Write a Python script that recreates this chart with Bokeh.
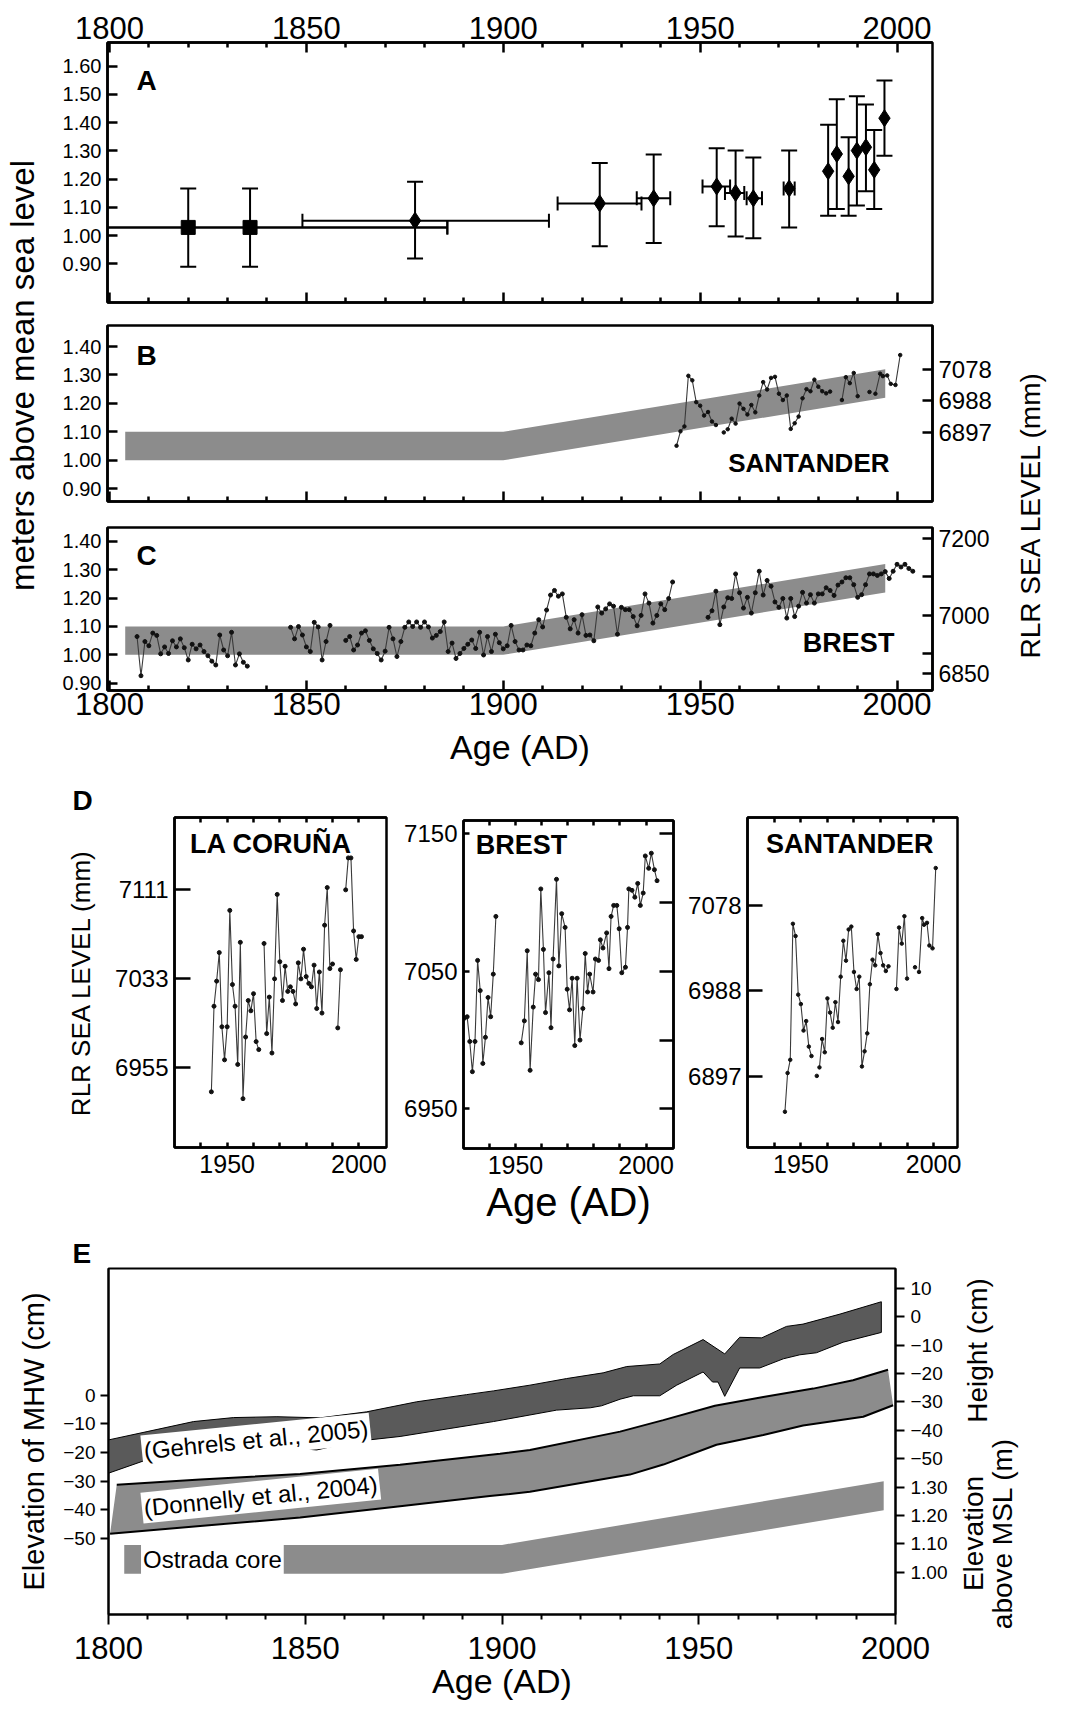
import math
from bokeh.plotting import figure
from bokeh.models import Range1d, LinearAxis, FixedTicker, NumeralTickFormatter, Label, ColumnDataSource
from bokeh.layouts import row, column
from bokeh.embed import file_html
from bokeh.resources import INLINE

NaN = float("nan")
FONT = "Liberation Sans"
BAND = "#8c8c8c"
DARK = "#5a5a5a"

# ---------------- data ----------------
year_major = [1800, 1850, 1900, 1950, 2000]
year_minor = [1810, 1820, 1830, 1840, 1860, 1870, 1880, 1890, 1910, 1920, 1930, 1940, 1960, 1970, 1980, 1990]
d_year_major = [1950, 2000]
d_year_minor = [1940, 1960, 1970, 1980, 1990]

# Panel A: sea-level index points (m above MSL) with error bars
a_year = [1820.0, 1835.7, 1877.6, 1924.5, 1938.2, 1954.2, 1959.0, 1963.5, 1972.6, 1982.5, 1984.7, 1987.7, 1989.8, 1992.1, 1994.2, 1996.8]
a_level = [1.029, 1.029, 1.053, 1.114, 1.132, 1.174, 1.151, 1.132, 1.167, 1.228, 1.289, 1.210, 1.301, 1.313, 1.233, 1.416]
a_low = [0.890, 0.890, 0.919, 0.962, 0.974, 1.033, 0.997, 0.991, 1.029, 1.070, 1.094, 1.070, 1.107, 1.157, 1.094, 1.283]
a_high = [1.167, 1.167, 1.191, 1.257, 1.287, 1.309, 1.301, 1.277, 1.301, 1.393, 1.483, 1.348, 1.494, 1.464, 1.374, 1.549]
a_year_lo = [1790.0, 1790.0, 1849.0, 1913.8, 1933.9, 1950.6, 1956.3, 1961.8, 1971.2, 1982.5, 1984.7, 1987.7, 1989.8, 1992.1, 1994.2, 1996.8]
a_year_hi = [1885.8, 1885.8, 1911.6, 1935.1, 1942.4, 1957.6, 1961.2, 1965.7, 1974.0, 1982.5, 1984.7, 1987.7, 1989.8, 1992.1, 1994.2, 1996.8]
a_group = [1, 1, 2, 2, 2, 2, 2, 2, 2, 2, 2, 2, 2, 2, 2, 2]
a_ticks = [0.9, 1.0, 1.1, 1.2, 1.3, 1.4, 1.5, 1.6]
bc_ticks = [0.9, 1.0, 1.1, 1.2, 1.3, 1.4]

# Ostrada core band (m above MSL)
band_year = [1804, 1900, 1997]
band_low = [1.00, 1.00, 1.22]
band_high = [1.10, 1.10, 1.32]

# Santander RLR sea level (mm)
s_year = [1944, 1945, 1946, 1947, 1948, 1949, 1950, 1951, 1952, 1953, 1954, NaN,
          1956, NaN,
          1957, 1958, 1959, 1960, 1961, 1962, 1963, 1964, 1965, 1966, 1967, 1968, 1969, 1970,
          1971, 1972, 1973, 1974, 1975, 1976, 1977, 1978, 1979, 1980, 1981, 1982, 1983, NaN,
          1986, 1987, 1988, 1989, 1990, NaN,
          1993, NaN,
          1994.5, 1995.7, 1996.4, 1997.5, 1998.4, 1999.6, 2000.8]
s_mm = [6860, 6901, 6915, 7059, 7046, 6984, 6974, 6946, 6956, 6929, 6919, NaN,
        6898, NaN,
        6907, 6937, 6923, 6980, 6965, 6949, 6976, 6955, 7003, 7041, 7020, 7053, 7056, 7008,
        6990, 7003, 6908, 6924, 6943, 6995, 7021, 7015, 7048, 7028, 7015, 7009, 7014, NaN,
        6990, 7055, 7038, 7067, 7001, NaN,
        7013, NaN,
        7008, 7065, 7058, 7060, 7036, 7033, 7118]
b_mm_ticks = [6897, 6988, 7078]

# Brest RLR sea level (mm), long record shown in panel C
bc_year = [1807, 1808, 1809, 1810, 1811, 1812, 1813, 1814, 1815, 1816, 1817, 1818, 1819, 1820, 1821,
           1822, 1823, 1824, 1825, 1826, 1827, 1828, 1829, 1830, 1831, 1832, 1833, 1834, 1835, NaN,
           1846, 1847, 1848, 1849, 1850, 1851, 1852, 1853, 1854, 1855, 1856, NaN,
           1860, 1861, 1862, 1863, 1864, 1865, 1866, 1867, 1868, 1869, 1870, 1871, 1872, 1873,
           1874, 1875, 1876, 1877, 1878, 1879, 1880, 1881, 1882, 1883, 1884, 1885, 1886, 1887,
           1888, 1889, 1890, 1891, 1892, 1893, 1894, 1895, 1896, 1897, 1898, 1899, 1900, 1901,
           1902, 1903, 1904, 1905, 1906, 1907, 1908, 1909, 1910, 1911, 1912, 1913, 1914, 1915,
           1916, 1917, 1918, 1919, 1920, 1921, 1922, 1923, 1924, 1925, 1926, 1927, 1928, 1929,
           1930, 1931, 1932, 1933, 1934, 1935, 1936, 1937, 1938, 1939, 1940, 1941, 1942, 1943, NaN,
           1952, 1953, 1954, 1955, 1956, 1957, 1958, 1959, 1960, 1961, 1962, 1963, 1964, 1965,
           1966, 1967, 1968, 1969, 1970, 1971, 1972, 1973, 1974, 1975, 1976, 1977, 1978, 1979,
           1980, 1981, 1982, 1983, 1984, 1985, 1986, 1987, 1988, 1989, 1990, 1991, 1992, 1993,
           1994, 1995, 1996, 1997, 1998, 1999, 2000, 2001, 2002, 2003, 2004]
bc_mm = [6945, 6843, 6932, 6921, 6954, 6948, 6900, 6918, 6901, 6934, 6918, 6939, 6916, 6884, 6925,
         6913, 6923, 6906, 6895, 6881, 6871, 6949, 6910, 6895, 6956, 6871, 6900, 6878, 6868, NaN,
         6969, 6939, 6971, 6949, 6918, 6906, 6982, 6970, 6884, 6932, 6974, NaN,
         6935, 6945, 6910, 6923, 6954, 6960, 6935, 6913, 6901, 6884, 6907, 6969, 6939, 6893,
         6932, 6969, 6983, 6971, 6983, 6969, 6983, 6970, 6941, 6948, 6958, 6983, 6906, 6928,
         6888, 6901, 6914, 6925, 6936, 6914, 6956, 6897, 6945, 6906, 6951, 6929, 6913, 6921,
         6974, 6932, 6910, 6910, 6923, 6921, 6954, 6989, 6970, 7014, 7053, 7065, 7050, 7056,
         6995, 6965, 6989, 6954, 7002, 6948, 6949, 6934, 7022, 7006, 7017, 7030, 7024, 6951,
         7021, 7015, 7015, 6997, 6973, 7000, 7056, 7032, 6980, 7000, 7030, 7015, 7044, 7087, NaN,
         6995, 7012, 7063, 6976, 7022, 7046, 7044, 7108, 7059, 7019, 7047, 7006, 7059, 7115,
         7053, 7091, 7076, 7035, 7021, 7044, 6993, 7044, 6997, 7024, 7060, 7032, 7054, 7032,
         7056, 7056, 7072, 7065, 7052, 7079, 7087, 7098, 7098, 7080, 7047, 7054, 7080, 7108,
         7108, 7104, 7108, 7114, 7096, 7115, 7133, 7126, 7133, 7122, 7115]
c_mm_ticks = [6850, 6900, 7000, 7100, 7200]
c_mm_labels = {6850: "6850", 6900: "", 7000: "7000", 7100: "", 7200: "7200"}

# Panel D: La Coruna (mm)
lc_year = [1944, 1945, 1946, 1947, 1948, 1949, 1950, 1951, 1952, 1953, 1954, 1955, 1956, 1957,
           1958, 1959, 1960, 1961, 1962, NaN,
           1964, 1965, 1966, 1967, 1968, 1969, 1970, 1971, 1972, 1973, 1974, 1975, 1976, 1977,
           1978, 1979, 1980, 1981, 1982, 1983, 1984, 1985, 1986, 1987, 1988, 1989, 1990, NaN,
           1992, 1993, NaN,
           1995, 1996, 1997, 1998, 1999, 2000, 2001]
lc_mm = [6934, 7009, 7031, 7056, 6991, 6962, 6991, 7093, 7028, 7009, 6958, 7065, 6928, 6982,
         7014, 7005, 7020, 6978, 6971, NaN,
         7064, 6985, 7017, 6968, 7033, 7107, 7048, 7014, 7044, 7022, 7026, 7022, 7011, 7047,
         7033, 7059, 7035, 7029, 7026, 7045, 7007, 7039, 7003, 7080, 7113, 7042, 7046, NaN,
         6990, 7041, NaN,
         7111, 7139, 7139, 7075, 7050, 7070, 7070]
lc_ticks = [6955, 7033, 7111]

# Panel D: Brest (mm)
br_year = [1930.5, 1931.5, 1932.5, 1933.5, 1934.5, 1935.5, 1936.5, 1937.5, 1938.5, 1939.5, 1940.5,
           1941.5, 1942.5, NaN,
           1952.2, 1953.4, 1954.5, 1955.6, 1956.8, 1957.7, 1958.8, 1959.7, 1960.7, 1961.5, 1962.8,
           1963.6, 1964.4, 1965.7, 1966.6, 1967.7, 1969.0, 1969.8, 1970.7, 1971.7, 1972.7, 1973.6,
           1974.7, 1975.8, 1976.7, 1977.6, 1978.4, 1979.7, 1980.6, 1981.8, 1982.5, 1983.5, 1984.9,
           1985.8, 1986.6, 1987.6, 1988.8, 1989.7, 1990.7, 1992.1, 1992.9, 1993.4, 1994.6, 1995.7,
           1996.8, 1997.8, 1998.9, 1999.7, 2001.0, 2002.0, 2003.2, 2004.2]
br_mm = [7016, 7017, 6999, 6977, 6999, 7058, 7036, 6983, 7002, 7031, 7017, 7048, 7090, NaN,
         6998, 7014, 7065, 6978, 7024, 7048, 7044, 7110, 7066, 7020, 7049, 7009, 7059, 7117,
         7054, 7092, 7082, 7037, 7022, 7045, 6996, 7045, 7000, 7023, 7063, 7035, 7048, 7035,
         7059, 7058, 7073, 7067, 7078, 7052, 7090, 7098, 7098, 7081, 7049, 7053, 7082, 7110,
         7109, 7104, 7114, 7098, 7107, 7134, 7125, 7136, 7124, 7116]
br_ticks = [6950, 7050, 7150]
br_right_ticks = [6950, 7000, 7050, 7100, 7150]

# Panel E: saltmarsh reconstructions (cm relative to MHW)
geh_up_year = [1800, 1809.8, 1821.6, 1831.8, 1842.8, 1853.8, 1865.6, 1878.3, 1891.0, 1897.8, 1907.1,
               1916.4, 1925.7, 1931.7, 1940.1, 1943.5, 1951.1, 1956.6, 1960.4, 1966.0, 1972.3,
               1976.5, 1985.9, 1996.4]
geh_up_cm = [-15.6, -12.7, -9.2, -7.8, -7.5, -7.9, -5.8, -2.3, 0.2, 1.5, 3.5, 5.8, 7.8, 10.0, 10.9,
             14.2, 19.4, 14.4, 20.2, 20.0, 24.0, 24.8, 28.3, 32.6]
geh_lo_year = [1800, 1809.8, 1821.6, 1831.8, 1842.8, 1852.9, 1862.2, 1874.1, 1886.8, 1897.8, 1907.1,
               1913.9, 1922.4, 1925.3, 1930.0, 1933.4, 1940.1, 1944.4, 1951.1, 1953.5, 1954.9,
               1956.6, 1960.4, 1965.5, 1971.5, 1975.7, 1979.9, 1986.7, 1996.4]
geh_lo_cm = [-27.2, -22.5, -20.8, -19.6, -17.9, -19.1, -16.2, -14.4, -11.6, -9.2, -6.9, -5.2, -4.4,
             -3.7, -1.4, -0.2, -0.2, 3.5, 8.1, 4.6, 4.6, -0.4, 9.5, 9.5, 12.7, 14.1, 14.8, 18.5, 21.9]
don_up_year = [1802.1, 1823.3, 1848.7, 1874.1, 1899.5, 1907.1, 1930.0, 1941.0, 1954.1, 1966.4,
               1979.1, 1989.2, 1998.1]
don_up_cm = [-31.2, -29.4, -27.5, -24.3, -20.4, -19.1, -12.7, -8.7, -3.7, -0.6, 2.3, 5.2, 8.9]
don_lo_year = [1800.4, 1823.3, 1848.7, 1874.1, 1896.9, 1907.1, 1932.5, 1941.0, 1954.5, 1966.4,
               1976.5, 1991.8, 1999.4]
don_lo_cm = [-48.3, -45.6, -42.7, -38.7, -35.2, -33.7, -27.7, -24.2, -17.3, -13.9, -10.6, -7.5, -3.5]
e_left_ticks = [-50, -40, -30, -20, -10, 0]
e_right_ticks = [10, 0, -10, -20, -30, -40, -50, -60, -70, -80, -90]
e_right_labels = {-60: "1.30", -70: "1.20", -80: "1.10", -90: "1.00"}

XR = (1799.5, 2009.0)


# ---------------- helpers ----------------
def mk(width, height, xr, yr, left, right, top, bottom, x_loc="below", lw=2.5):
    p = figure(width=width, height=height, x_range=Range1d(*xr), y_range=Range1d(*yr),
               output_backend="svg", toolbar_location=None, x_axis_location=x_loc,
               min_border_left=left, min_border_right=right,
               min_border_top=top, min_border_bottom=bottom)
    p.grid.visible = False
    p.outline_line_color = "black"
    p.outline_line_width = lw
    p.background_fill_color = "white"
    p.border_fill_color = "white"
    return p


def style(ax, ticks, minor, size, tin, tout=0, min_in=0, min_out=0, lw=2.5, standoff=5):
    ax.ticker = FixedTicker(ticks=ticks, minor_ticks=minor)
    ax.axis_line_width = lw
    ax.axis_line_color = "black"
    ax.major_tick_line_width = lw
    ax.minor_tick_line_width = lw
    ax.major_tick_line_color = "black"
    ax.minor_tick_line_color = "black"
    ax.major_tick_in = tin
    ax.major_tick_out = tout
    ax.minor_tick_in = min_in
    ax.minor_tick_out = min_out
    ax.major_label_text_font = FONT
    ax.major_label_standoff = standoff
    if size:
        ax.major_label_text_font_size = f"{size}px"
        ax.major_label_text_color = "black"
    else:
        ax.major_label_text_font_size = "0px"
        ax.major_label_text_color = None
    return ax


def add_axis(p, loc, ticks, minor, size, tin, y_range_name=None, **kw):
    ax = LinearAxis(y_range_name=y_range_name) if y_range_name else LinearAxis()
    style(ax, ticks, minor, size, tin, **kw)
    p.add_layout(ax, loc)
    return ax


def axis_title(ax, s, size, standoff):
    ax.axis_label = s
    ax.axis_label_text_font = FONT
    ax.axis_label_text_font_size = f"{size}px"
    ax.axis_label_text_font_style = "normal"
    ax.axis_label_text_color = "black"
    ax.axis_label_standoff = standoff


def text(p, x, y, s, size, bold=False, angle=0.0, yr="default", bg=None, align="center"):
    lab = Label(x=x, y=y, text=s, text_font=FONT, text_font_size=f"{size}px",
                text_font_style="bold" if bold else "normal", angle=angle,
                text_align=align, text_baseline="middle", y_range_name=yr, text_color="black")
    if bg:
        lab.background_fill_color = bg
        lab.padding = 2
    p.add_layout(lab)


def panel_letter(p, s, offset, standoff):
    p.title.text = s
    p.title.align = "left"
    p.title.offset = offset
    p.title.standoff = standoff
    p.title.text_font = FONT
    p.title.text_font_size = "28px"
    p.title.text_font_style = "bold"
    p.title.text_color = "black"


def series(p, xs, ys, yr="default", size=4):
    p.line(x=xs, y=ys, y_range_name=yr, line_color="#3a3a3a", line_width=1.1)
    p.scatter(x=xs, y=ys, y_range_name=yr, size=size, fill_color="#111111", line_color="#111111")


def strip(width, height):
    s = figure(width=width, height=height, x_range=Range1d(0, width), y_range=Range1d(0, height),
               x_axis_type=None, y_axis_type=None, toolbar_location=None, output_backend="svg",
               min_border=0)
    s.outline_line_color = None
    s.background_fill_color = "white"
    s.border_fill_color = "white"
    return s


def vtext(p, x, y, s, size):
    p.add_layout(Label(x=x, y=y, text=s, angle=math.pi / 2, text_font=FONT,
                       text_font_size=f"{size}px", text_align="center", text_baseline="middle",
                       text_color="black"))


# ---------------- Panel A ----------------
pA = mk(955, 312, XR, (0.763, 1.684), 57, 73, 42, 10, x_loc="above")
style(pA.xaxis[0], year_major, year_minor, 31, 10, min_in=5, standoff=4)
add_axis(pA, "below", year_major, year_minor, 0, 10, min_in=5, standoff=0)
ay = style(pA.yaxis[0], a_ticks, [], 20, 10, standoff=6)
ay.formatter = NumeralTickFormatter(format="0.00")

srcA = ColumnDataSource(dict(x=a_year, y=a_level, lo=a_low, hi=a_high))
pA.segment(x0="x", y0="lo", x1="x", y1="hi", source=srcA, line_color="black", line_width=2)
pA.scatter(x="x", y="lo", source=srcA, marker="dash", size=16, line_color="black", line_width=2)
pA.scatter(x="x", y="hi", source=srcA, marker="dash", size=16, line_color="black", line_width=2)
hb = [i for i in range(len(a_year)) if a_year_hi[i] > a_year_lo[i]]
srcH = ColumnDataSource(dict(x0=[a_year_lo[i] for i in hb], x1=[a_year_hi[i] for i in hb],
                             y=[a_level[i] for i in hb]))
pA.segment(x0="x0", y0="y", x1="x1", y1="y", source=srcH, line_color="black", line_width=2)
pA.scatter(x="x0", y="y", source=srcH, marker="dash", angle=math.pi / 2, size=14, line_color="black", line_width=2)
pA.scatter(x="x1", y="y", source=srcH, marker="dash", angle=math.pi / 2, size=14, line_color="black", line_width=2)
g1 = [i for i in range(len(a_year)) if a_group[i] == 1]
g2 = [i for i in range(len(a_year)) if a_group[i] == 2]
pA.scatter(x=[a_year[i] for i in g1], y=[a_level[i] for i in g1], marker="square", size=14,
           fill_color="black", line_color="black")
pA.scatter(x=[a_year[i] for i in g2], y=[a_level[i] for i in g2], marker="diamond", size=17,
           fill_color="black", line_color="black")
text(pA, 1809.4, 1.551, "A", 28, bold=True)

# ---------------- Panel B ----------------
pB = mk(955, 202, XR, (0.855, 1.474), 57, 73, 13, 13)
pB.extra_y_ranges = {"mm": Range1d(6701.5, 7202.0)}
style(pB.xaxis[0], year_major, year_minor, 0, 10, min_in=5, standoff=0)
byx = style(pB.yaxis[0], bc_ticks, [], 20, 10, standoff=6)
byx.formatter = NumeralTickFormatter(format="0.00")
add_axis(pB, "right", b_mm_ticks, [], 24, 10, y_range_name="mm", standoff=6)
pB.varea(x=band_year, y1=band_low, y2=band_high, fill_color=BAND)
series(pB, s_year, s_mm, yr="mm", size=3.5)
text(pB, 1809.4, 1.368, "B", 28, bold=True)
text(pB, 1977.6, 0.989, "SANTANDER", 26, bold=True)

# ---------------- Panel C ----------------
pC = mk(955, 263, XR, (0.874, 1.449), 57, 73, 13, 87)
pC.extra_y_ranges = {"mm": Range1d(6804.6, 7228.8)}
cx = style(pC.xaxis[0], year_major, year_minor, 31, 10, min_in=5, standoff=2)
axis_title(cx, "Age (AD)", 34, 10)
cyx = style(pC.yaxis[0], bc_ticks, [], 20, 10, standoff=6)
cyx.formatter = NumeralTickFormatter(format="0.00")
cr = add_axis(pC, "right", c_mm_ticks, [], 23, 10, y_range_name="mm", standoff=6)
cr.major_label_overrides = c_mm_labels
pC.varea(x=band_year, y1=band_low, y2=band_high, fill_color=BAND)
series(pC, bc_year, bc_mm, yr="mm", size=4)
text(pC, 1809.4, 1.350, "C", 28, bold=True)
text(pC, 1987.7, 1.043, "BREST", 27, bold=True)

# ---------------- strips with shared axis titles ----------------
TOP_H = 312 + 202 + 263
sL = strip(50, TOP_H)
vtext(sL, 22, TOP_H - 375, "meters above mean sea level", 33)
sR = strip(68, TOP_H)
vtext(sR, 25, TOP_H - 514, "RLR SEA LEVEL (mm)", 28)

# ---------------- Panel D ----------------
D_H = 1235 - TOP_H
pD1 = mk(395, D_H, (1930.0, 2010.5), (6885.2, 7174.4), 174, 9, 817 - TOP_H, 88)
style(pD1.xaxis[0], d_year_major, d_year_minor, 25, 5, min_in=5, standoff=7)
add_axis(pD1, "above", d_year_major, d_year_minor, 0, 5, min_in=5, standoff=0)
dy1 = style(pD1.yaxis[0], lc_ticks, [], 24, 16, standoff=6)
axis_title(dy1, "RLR SEA LEVEL (mm)", 26, 16)
series(pD1, lc_year, lc_mm, size=4)
text(pD1, 1966.6, 7151.3, "LA CORUÑA", 27, bold=True)
panel_letter(pD1, "D", -102, 4)

pD2 = mk(290, D_H, (1930.1, 2010.5), (6921.1, 7159.8), 68, 12, 820 - TOP_H, 87)
dx2 = style(pD2.xaxis[0], d_year_major, d_year_minor, 25, 5, min_in=5, standoff=7)
axis_title(dx2, "Age (AD)", 40, 3)
add_axis(pD2, "above", d_year_major, d_year_minor, 0, 5, min_in=5, standoff=0)
style(pD2.yaxis[0], br_ticks, [], 24, 6, standoff=6)
add_axis(pD2, "right", br_right_ticks, [], 0, 14, standoff=0)
series(pD2, br_year, br_mm, size=4)
text(pD2, 1952.3, 7142.3, "BREST", 27, bold=True)

pD3 = mk(388, D_H, (1929.9, 2009.0), (6822.2, 7171.5), 62, 116, 817 - TOP_H, 88)
style(pD3.xaxis[0], d_year_major, d_year_minor, 25, 5, min_in=5, standoff=7)
add_axis(pD3, "above", d_year_major, d_year_minor, 0, 5, min_in=5, standoff=0)
style(pD3.yaxis[0], b_mm_ticks, [], 24, 15, standoff=6)
series(pD3, s_year, s_mm, size=3.5)
text(pD3, 1968.4, 7143.6, "SANTANDER", 27, bold=True)

# ---------------- Panel E ----------------
pE = mk(950, 477, (1800, 2000), (-76.5, 44.2), 108, 54, 31, 98, lw=2)
pE.extra_y_ranges = {"height": Range1d(-104.9, 17.0), "msl": Range1d(0.859, 2.057)}
ex = style(pE.xaxis[0], year_major, year_minor, 31, 0, tout=10, min_out=5, lw=2, standoff=12)
axis_title(ex, "Age (AD)", 34, 0)
ey = style(pE.yaxis[0], e_left_ticks, [], 19, 0, tout=8, lw=2, standoff=5)
axis_title(ey, "Elevation of MHW (cm)", 29, 10)
er = add_axis(pE, "right", e_right_ticks, [], 19, 0, y_range_name="height", tout=9, lw=2, standoff=6)
er.major_label_overrides = e_right_labels

pE.patch(geh_up_year + geh_lo_year[::-1], geh_up_cm + geh_lo_cm[::-1],
         fill_color=DARK, line_color="black", line_width=1)
pE.patch(don_up_year + don_lo_year[::-1], don_up_cm + don_lo_cm[::-1],
         fill_color=BAND, line_color=None)
pE.line(x=don_up_year, y=don_up_cm, line_color="black", line_width=2)
pE.line(x=don_lo_year, y=don_lo_cm, line_color="black", line_width=2)
pE.varea(x=band_year, y1=band_low, y2=band_high, y_range_name="msl", fill_color=BAND)

text(pE, 1837.5, -15.5, "(Gehrels et al., 2005)", 24, angle=0.0995, bg="white")
text(pE, 1838.7, -35.2, "(Donnelly et al., 2004)", 24, angle=0.101, bg="white")
text(pE, 1826.4, -57.4, "Ostrada core", 24, bg="white")
panel_letter(pE, "E", -36, 0)

sE = strip(123, 477)
vtext(sE, 27, 1712 - 1350, "Height (cm)", 28)
vtext(sE, 23, 1712 - 1533, "Elevation", 28)
vtext(sE, 52, 1712 - 1533, "above MSL (m)", 28)

layout = column(
    row(sL, column(pA, pB, pC), sR),
    row(column(pD1), column(pD2), column(pD3)),
    row(column(pE), sE),
)

open("out.html", "w").write(file_html(layout, INLINE))
